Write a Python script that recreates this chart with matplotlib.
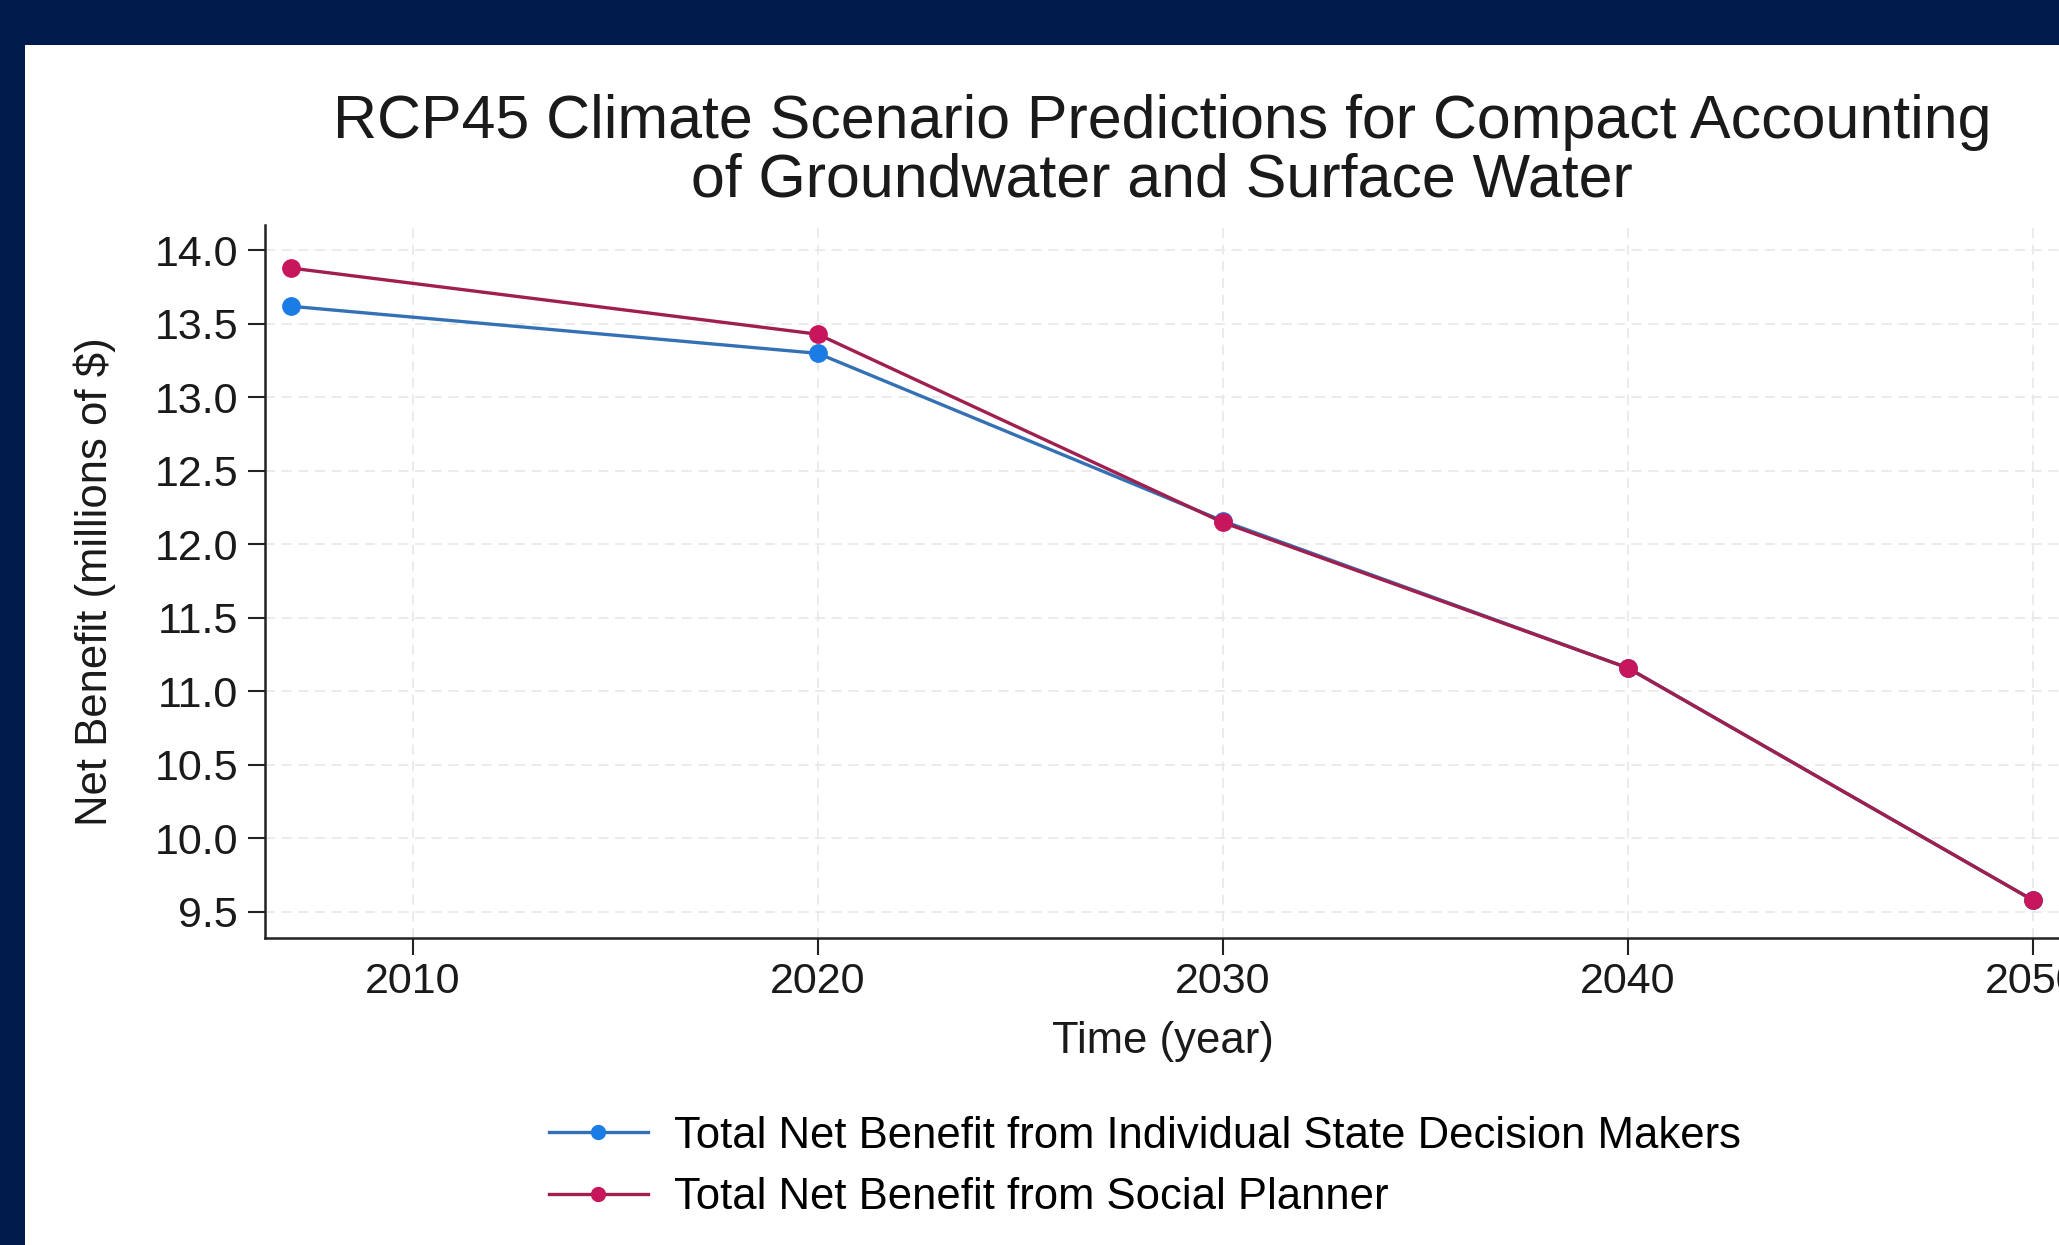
import matplotlib
matplotlib.use("Agg")
import matplotlib.pyplot as plt
from matplotlib.patches import Rectangle

plt.rcParams['font.family'] = ['Liberation Sans', 'DejaVu Sans']

# data
years = [2007, 2020, 2030, 2040, 2050]
individual = [13.62, 13.30, 12.16, 11.16, 9.58]
planner = [13.88, 13.43, 12.15, 11.16, 9.58]
labels = ['Total Net Benefit from Individual State Decision Makers',
          'Total Net Benefit from Social Planner']
x_ticks = [2010, 2020, 2030, 2040, 2050]
y_ticks = [9.5, 10.0, 10.5, 11.0, 11.5, 12.0, 12.5, 13.0, 13.5, 14.0]

W, H = 2059, 1245
fig = plt.figure(figsize=(W / 100, H / 100), dpi=100)
fig.patch.set_facecolor('white')

# navy frame of the screenshot
navy = '#001a4b'
fig.add_artist(Rectangle((0, 1 - 45 / H), 1, 45 / H, transform=fig.transFigure,
                         facecolor=navy, edgecolor='none', zorder=0))
fig.add_artist(Rectangle((0, 0), 25 / W, 1, transform=fig.transFigure,
                         facecolor=navy, edgecolor='none', zorder=0))

ax = fig.add_axes([265 / W, 1 - 938 / H, (2059.3 - 265) / W, (938 - 225) / H])

# line colour, marker colour
styles = [('#3470b4', '#1c7ce6'), ('#a01f4e', '#c8165c')]
for vals, lab, (lc, mc) in zip([individual, planner], labels, styles):
    ax.plot(years, vals, color=lc, lw=2.4, marker='o', markersize=12.5,
            markerfacecolor=mc, markeredgecolor=mc, label=lab, zorder=3)

ax.set_xlim(2006.354, 2050.65)
ax.set_ylim(9.323, 14.173)
ax.set_xticks(x_ticks)
ax.set_yticks(y_ticks)
ax.set_yticklabels([f'{v:.1f}' for v in y_ticks])

for s in ['top', 'right']:
    ax.spines[s].set_visible(False)
for s in ['left', 'bottom']:
    ax.spines[s].set_linewidth(1.8)
    ax.spines[s].set_color('#222222')

ax.tick_params(axis='both', labelsize=31, length=12.5, width=1.5,
               color='#222222', labelcolor='#1a1a1a')
ax.tick_params(axis='y', pad=7)
ax.tick_params(axis='x', pad=5)

ax.grid(True, color='#e8e8e8', lw=1.2, linestyle=(0, (6, 4)), zorder=0)
ax.set_axisbelow(True)

ax.set_xlabel('Time (year)', fontsize=31.4, color='#1a1a1a')
ax.xaxis.label.set_va('center')
ax.xaxis.set_label_coords((1163 - 265) / 1794.3, (938 - 1041) / 713)
ax.set_ylabel('Net Benefit (millions of $)', fontsize=31.4, color='#1a1a1a')
ax.yaxis.label.set_va('center')
ax.yaxis.set_label_coords((95 - 265) / 1794.3, 0.5)

fig.text(1162 / W, 1 - 152 / H,
         'RCP45 Climate Scenario Predictions for Compact Accounting\nof Groundwater and Surface Water',
         ha='center', va='center', fontsize=43.8, linespacing=1.03, color='#1a1a1a')

fig.legend(loc='center', bbox_to_anchor=(1145 / W, 1 - 1167 / H), frameon=False,
           fontsize=31.4, handlelength=2.27, handletextpad=0.6, labelspacing=0.48,
           borderpad=0, markerscale=0.8)

fig.savefig('out.png', dpi=100, facecolor='white')
